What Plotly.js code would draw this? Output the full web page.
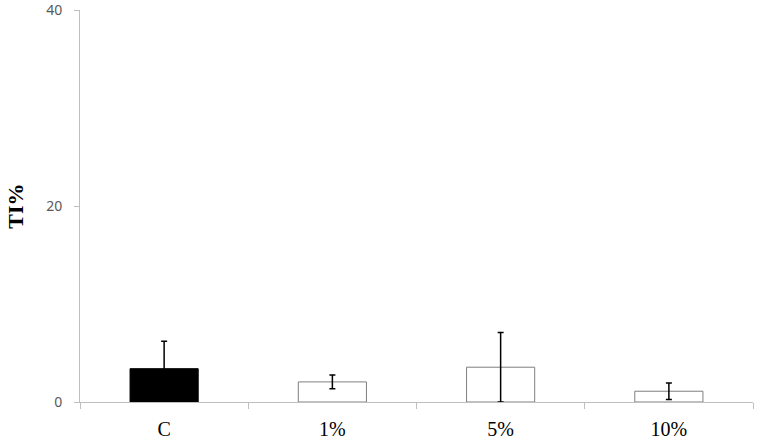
<!DOCTYPE html>
<html>
<head>
<meta charset="utf-8">
<script src="https://cdn.plot.ly/plotly-3.0.1.min.js"></script>
<style>
  html, body { margin: 0; padding: 0; background: #fff; }
  #chart { width: 758px; height: 443px; }
</style>
</head>
<body>
<div id="chart"></div>
<script>
// groups and TI% means
var groups = ["C", "1%", "5%", "10%"];
var tiMeans = [3.4, 2.05, 3.55, 1.1];
var tiErrors = [2.8, 0.7, 3.55, 0.85];
var yTicks = [0, 20, 40];

// control is filled black, the rest are open bars
var fills = groups.map(g => g === "C" ? "#000000" : "#ffffff");
var edges = groups.map(g => g === "C" ? "#000000" : "#7f7f7f");

var trace = {
  x: groups,
  y: tiMeans,
  type: "bar",
  width: 0.405,
  marker: { color: fills, line: { color: edges, width: 1 } },
  error_y: { type: "data", array: tiErrors, visible: true, color: "#000000", thickness: 1.5, width: 3 },
  cliponaxis: false
};

var layout = {
  width: 758,
  height: 443,
  margin: { l: 80, r: 5, t: 9.5, b: 40.5 },
  paper_bgcolor: "#ffffff",
  plot_bgcolor: "#ffffff",
  showlegend: false,
  bargap: 0,
  xaxis: {
    type: "category",
    range: [-0.5, 3.5],
    tickson: "boundaries",
    ticks: "outside",
    ticklen: 6,
    tickcolor: "#bfbfbf",
    ticklabelstandoff: 9,
    showline: true,
    linecolor: "#bfbfbf",
    linewidth: 1,
    showgrid: false,
    zeroline: false,
    tickfont: { family: "Liberation Serif, Times New Roman, serif", size: 20, color: "#000000" },
    fixedrange: true
  },
  yaxis: {
    range: [0, 40],
    tickvals: yTicks,
    ticktext: yTicks.map(String),
    ticks: "outside",
    ticklen: 5,
    tickcolor: "#bfbfbf",
    ticklabelstandoff: 9,
    ticklabeloverflow: "allow",
    showline: true,
    linecolor: "#bfbfbf",
    linewidth: 1,
    showgrid: false,
    zeroline: false,
    tickfont: { family: "Noto Sans, Open Sans, sans-serif", size: 14, color: "#595959" },
    title: {
      text: "TI%",
      font: { family: "Liberation Serif, Times New Roman, serif", size: 22, color: "#000000", weight: "bold" },
      standoff: 16
    },
    fixedrange: true
  }
};

Plotly.newPlot("chart", [trace], layout, { displayModeBar: false, staticPlot: true });
</script>
</body>
</html>
